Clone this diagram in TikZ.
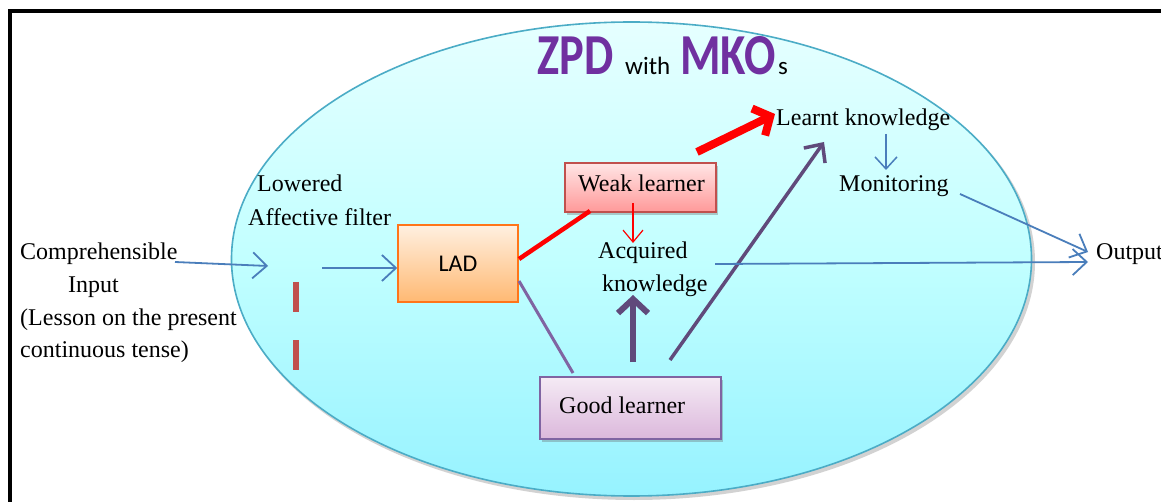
\documentclass[tikz,border=0pt]{standalone}
\usepackage{fontspec}
\setmainfont{Liberation Serif}
\newfontfamily\serifT{Liberation Serif}
\newfontfamily\carlito{Carlito}
\usetikzlibrary{arrows.meta,shadows}
\definecolor{ablue}{HTML}{4A7EBB}
\definecolor{ared}{HTML}{FF0000}
\definecolor{dred}{HTML}{C0504D}
\definecolor{apurple}{HTML}{8064A2}
\definecolor{dpurple}{HTML}{604A7B}
\definecolor{tpurple}{HTML}{7030A0}
\definecolor{ellborder}{HTML}{4BACC6}
\begin{document}
\begin{tikzpicture}[x=1pt,y=-1pt,
  txt/.style={font=\serifT\fontsize{24}{28}\selectfont, inner sep=0pt, anchor=base west},
  bluearrow/.style={ablue, line width=1.8pt, -{Straight Barb[length=14pt,width=26pt,line width=1.8pt]}},
  boxshadow/.style={drop shadow={shadow xshift=2pt,shadow yshift=-3pt,opacity=0.35,fill=black!60}},
]
\useasboundingbox (0,0) rectangle (1161,502);
\fill[white] (0,0) rectangle (1161,502);
% frame
\draw[black, line width=4pt] (10,502) -- (10,11) -- (1165,11);
% ellipse
\fill[black!35, opacity=0.5] (634,262) ellipse [x radius=401, y radius=238];
\shade[top color=cyan!10, bottom color=cyan!38!white!95!blue, middle color=cyan!24] (631.5,259) ellipse [x radius=400, y radius=237];
\draw[ellborder, line width=1.6pt] (631.5,259) ellipse [x radius=400, y radius=237];
% title
\node[inner sep=0pt, anchor=base west, text=tpurple] (zpd) at (537,75) {\scalebox{0.8}[1]{\carlito\bfseries\fontsize{58}{60}\selectfont ZPD}};
\node[inner sep=0pt, anchor=base west] (with) at (625,75) {\carlito\fontsize{25}{28}\selectfont with};
\node[inner sep=0pt, anchor=base west, text=tpurple] (mko) at (680,75) {\scalebox{0.8}[1]{\carlito\bfseries\fontsize{58}{60}\selectfont MKO}};
\node[inner sep=0pt, anchor=base west] (s) at (778,75) {\carlito\fontsize{25}{28}\selectfont s};
% left texts
\node[txt] (cin1) at (20,260) {Comprehensible};
\node[txt] (cin2) at (68,293) {Input};
\node[txt] (les1) at (20,326) {(Lesson on the present};
\node[txt] (les2) at (20,357) {continuous tense)};
\node[txt] (low1) at (257,192) {Lowered};
\node[txt] (low2) at (248,226) {Affective filter};
% boxes
\node[draw=orange!80!red!90, line width=1.5pt, top color=orange!12, bottom color=orange!55!white, minimum width=120pt, minimum height=77pt, inner sep=0pt] (lad) at (458,263.5) {\carlito\fontsize{24}{28}\selectfont LAD};
\node[draw=dred, line width=1.3pt, top color=red!10, bottom color=red!40!white, minimum width=151pt, minimum height=49pt, inner sep=0pt, boxshadow] (weak) at (640.5,187.5) {};
\node[txt] (weakt) at (578,192) {Weak learner};
\node[draw=apurple, line width=1.5pt, top color=violet!8, bottom color=violet!28!white, minimum width=181pt, minimum height=62pt, inner sep=0pt, boxshadow] (good) at (630.5,408) {};
\node[txt] (goodt) at (559,413) {Good learner};
% right texts
\node[txt] (acq1) at (598,259) {Acquired};
\node[txt] (acq2) at (602,292) {knowledge};
\node[txt] (learnt) at (776,126) {Learnt knowledge};
\node[txt] (mon) at (839,192) {Monitoring};
\node[txt] (out) at (1096,260) {Output};
% coordinates
\coordinate (a1s) at (175,262);
\coordinate (a1e) at (268,266);
\coordinate (a2s) at (322,268);
\coordinate (f1a) at (296,282);
\coordinate (f1b) at (296,372);
\coordinate (ladr1) at (519,259);
\coordinate (weakbl) at (590,211);
\coordinate (ladr2) at (519,281);
\coordinate (goodtl) at (573,373);
\coordinate (weaktr) at (697,152);
\coordinate (learntw) at (775,114);
\coordinate (weakb) at (633,203);
\coordinate (acqt) at (633,243);
\coordinate (goodt1) at (633,362);
\coordinate (acqb) at (633,295);
\coordinate (goodt2) at (670,360);
\coordinate (learntb) at (824,142);
\coordinate (acqr) at (715,264);
\coordinate (outw) at (1088,262);
\coordinate (learntbb) at (886,134);
\coordinate (mont) at (886,170);
\coordinate (monr) at (960,194);
\coordinate (outw2) at (1088,252);
% arrows
\draw[bluearrow] (a1s) -- (a1e);
\draw[bluearrow] (a2s) -- (lad.west |- a2s);
\draw[dred, line width=6pt, dash pattern=on 30pt off 28pt] (f1a) -- (f1b);
\draw[ared, line width=4.5pt] (ladr1) -- (weakbl);
\draw[apurple, line width=3pt] (ladr2) -- (goodtl);
\draw[ared, line width=8pt, -{Straight Barb[length=13pt,width=30pt,line width=8pt]}] (weaktr) -- (learntw);
\draw[ared, line width=1.2pt, -{Straight Barb[length=12pt,width=20pt,line width=1.2pt]}] (weakb) -- (acqt);
\draw[dpurple, line width=6pt, -{Straight Barb[length=14pt,width=30pt,line width=6pt]}] (goodt1) -- (acqb);
\draw[dpurple, line width=3.5pt, -{Straight Barb[length=14pt,width=26pt,line width=3.5pt]}] (goodt2) -- (learntb);
\draw[bluearrow] (acqr) -- (outw);
\draw[ablue, line width=1.5pt, -{Straight Barb[length=12pt,width=22pt,line width=1.5pt]}] (learntbb) -- (mont);
\draw[bluearrow] (monr) -- (outw2);
\end{tikzpicture}
\end{document}
